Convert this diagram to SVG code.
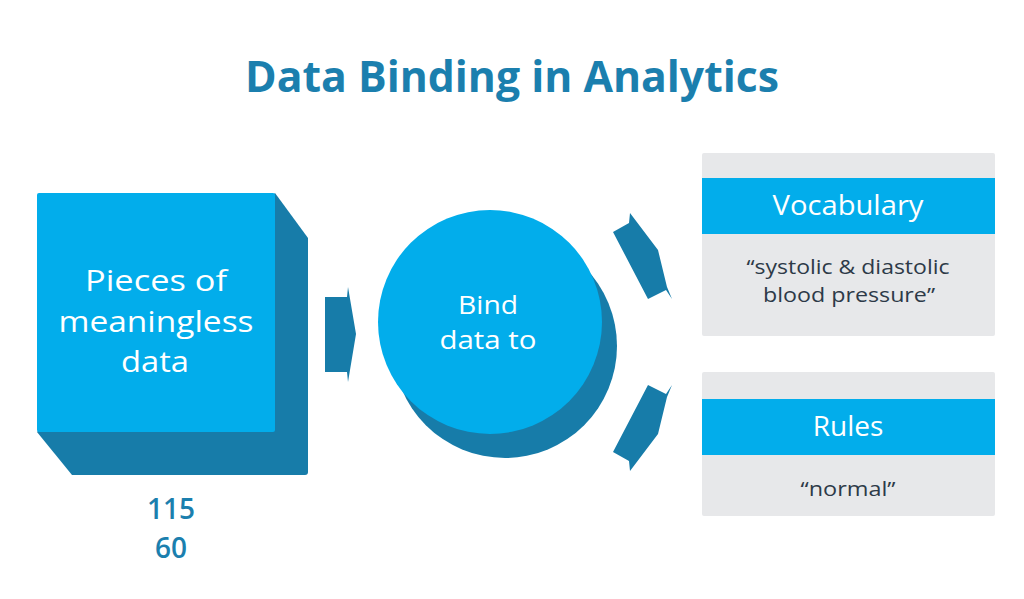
<svg xmlns="http://www.w3.org/2000/svg" width="1024" height="599" viewBox="0 0 1024 599">
<style>
.title{font-family:"Open Sans","Noto Sans",sans-serif;font-weight:700;fill:#1b7fae;}
.wt{font-family:"Open Sans","Noto Sans",sans-serif;font-weight:500;fill:#ffffff;text-anchor:middle;}
.dk{font-family:"Open Sans","Noto Sans",sans-serif;fill:#2d3a48;text-anchor:middle;font-size:20px;}
.num{font-family:"Open Sans","Noto Sans",sans-serif;font-weight:600;fill:#1b7fae;text-anchor:middle;font-size:28px;}
.bright{fill:#02adeb;}
.dark{fill:#177ca9;}
.gray{fill:#e7e8ea;}
</style>
<rect width="1024" height="599" fill="#ffffff"/>
<text class="title" x="512" y="92" font-size="43" text-anchor="middle" textLength="534" lengthAdjust="spacingAndGlyphs">Data Binding in Analytics</text>

<g id="cube">
  <path class="dark" d="M275,193 L308,238 L308,472 Q308,475 305,475 L72,475 L37,432 Z"/>
  <rect class="bright" x="37" y="193" width="238" height="239" rx="2"/>
  <text class="wt" x="156" y="291" font-size="29.5" textLength="142" lengthAdjust="spacingAndGlyphs">Pieces of</text>
  <text class="wt" x="156" y="332" font-size="29.5" textLength="195" lengthAdjust="spacingAndGlyphs">meaningless</text>
  <text class="wt" x="155" y="372" font-size="29.5" textLength="68" lengthAdjust="spacingAndGlyphs">data</text>
</g>

<g id="values">
  <text class="num" x="171" y="519">115</text>
  <text class="num" x="171" y="558">60</text>
</g>

<g id="bind">
  <circle class="dark" cx="505" cy="346" r="112"/>
  <circle class="bright" cx="490" cy="322" r="112"/>
  <text class="wt" x="488" y="314" font-size="25.5" textLength="60" lengthAdjust="spacingAndGlyphs">Bind</text>
  <text class="wt" x="488" y="349" font-size="25.5" textLength="97" lengthAdjust="spacingAndGlyphs">data to</text>
</g>

<g id="connectors">
  <polygon class="dark" points="325,297 347,297 348,287 356,334 348,382 347,372 325,372"/>
  <polygon class="dark" points="613,232 629,223 630,213 658,250 667,287 672,299 666,290 648,299"/>
  <polygon class="dark" transform="translate(0,684) scale(1,-1)" points="613,232 629,223 630,213 658,250 667,287 672,299 666,290 648,299"/>
</g>

<g id="vocabulary">
  <rect class="gray" x="702" y="153" width="293" height="183" rx="2"/>
  <rect class="bright" x="702" y="178" width="293" height="56"/>
  <text class="wt" x="848" y="215" font-size="28" textLength="151" lengthAdjust="spacingAndGlyphs">Vocabulary</text>
  <text class="dk" x="848" y="274" textLength="203" lengthAdjust="spacingAndGlyphs">“systolic &amp; diastolic</text>
  <text class="dk" x="849" y="302" textLength="172" lengthAdjust="spacingAndGlyphs">blood pressure”</text>
</g>

<g id="rules">
  <rect class="gray" x="702" y="372" width="293" height="144" rx="2"/>
  <rect class="bright" x="702" y="399" width="293" height="56"/>
  <text class="wt" x="848" y="436" font-size="28">Rules</text>
  <text class="dk" x="848" y="496" textLength="95" lengthAdjust="spacingAndGlyphs">“normal”</text>
</g>
</svg>
